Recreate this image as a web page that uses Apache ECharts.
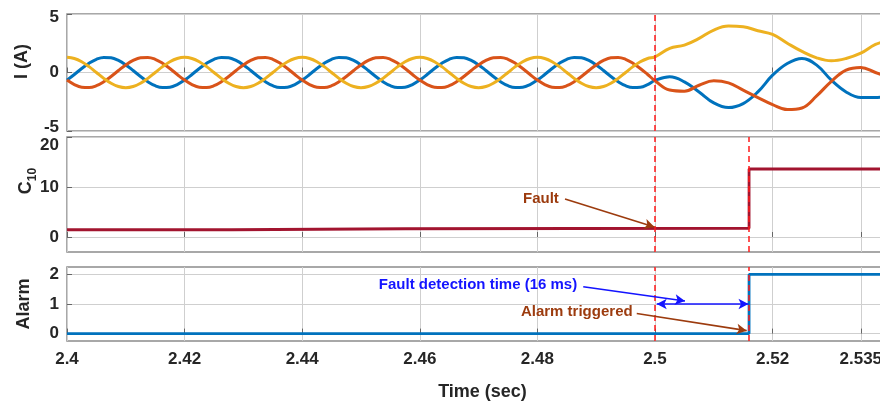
<!DOCTYPE html>
<html>
<head>
<meta charset="utf-8">
<title>Fault detection</title>
<script src="https://cdn.jsdelivr.net/npm/echarts/dist/echarts.min.js"></script>
<style>
    html, body { margin: 0; padding: 0; background: #fff; }
    #chart { width: 880px; height: 405px; }
</style>
</head>
<body>
<div id="chart"></div>
<script>
    // sample times (sec): one cycle per row before the fault, coarser after it
    var time = [
        2.4, 2.40125, 2.4025, 2.40375, 2.405, 2.40625, 2.4075, 2.40875,
        2.41, 2.41125, 2.4125, 2.41375, 2.415, 2.41625, 2.4175, 2.41875,
        2.42, 2.42125, 2.4225, 2.42375, 2.425, 2.42625, 2.4275, 2.42875,
        2.43, 2.43125, 2.4325, 2.43375, 2.435, 2.43625, 2.4375, 2.43875,
        2.44, 2.44125, 2.4425, 2.44375, 2.445, 2.44625, 2.4475, 2.44875,
        2.45, 2.45125, 2.4525, 2.45375, 2.455, 2.45625, 2.4575, 2.45875,
        2.46, 2.46125, 2.4625, 2.46375, 2.465, 2.46625, 2.4675, 2.46875,
        2.47, 2.47125, 2.4725, 2.47375, 2.475, 2.47625, 2.4775, 2.47875,
        2.48, 2.48125, 2.4825, 2.48375, 2.485, 2.48625, 2.4875, 2.48875,
        2.49, 2.49125, 2.4925, 2.49375, 2.495, 2.49625, 2.4975, 2.49875,
        2.5, 2.5025, 2.505, 2.5075, 2.51, 2.5125, 2.515, 2.5175,
        2.52, 2.5225, 2.525, 2.5275, 2.53, 2.5325, 2.535, 2.5375, 2.54, 2.5425];

    // phase currents (A)
    var currentBlue = [
        -0.65, -0.17, 0.34, 0.79, 1.13, 1.29, 1.26, 1.03, 0.65, 0.17, -0.34, -0.79, -1.13, -1.29, -1.26, -1.03,
        -0.65, -0.17, 0.34, 0.79, 1.13, 1.29, 1.26, 1.03, 0.65, 0.17, -0.34, -0.79, -1.13, -1.29, -1.26, -1.03,
        -0.65, -0.17, 0.34, 0.79, 1.13, 1.29, 1.26, 1.03, 0.65, 0.17, -0.34, -0.79, -1.13, -1.29, -1.26, -1.03,
        -0.65, -0.17, 0.34, 0.79, 1.13, 1.29, 1.26, 1.03, 0.65, 0.17, -0.34, -0.79, -1.13, -1.29, -1.26, -1.03,
        -0.65, -0.17, 0.34, 0.79, 1.13, 1.29, 1.26, 1.03, 0.65, 0.17, -0.34, -0.79, -1.13, -1.29, -1.26, -1.03,
        -0.68, -0.37, -0.8, -1.66, -2.6, -3.0, -2.66, -1.66,
        -0.23, 0.77, 1.2, 0.63, -0.66, -1.66, -2.14, -2.14, -1.95, -1.7];
    var currentOrange = [
        -0.65, -1.03, -1.26, -1.29, -1.13, -0.79, -0.34, 0.17, 0.65, 1.03, 1.26, 1.29, 1.13, 0.79, 0.34, -0.17,
        -0.65, -1.03, -1.26, -1.29, -1.13, -0.79, -0.34, 0.17, 0.65, 1.03, 1.26, 1.29, 1.13, 0.79, 0.34, -0.17,
        -0.65, -1.03, -1.26, -1.29, -1.13, -0.79, -0.34, 0.17, 0.65, 1.03, 1.26, 1.29, 1.13, 0.79, 0.34, -0.17,
        -0.65, -1.03, -1.26, -1.29, -1.13, -0.79, -0.34, 0.17, 0.65, 1.03, 1.26, 1.29, 1.13, 0.79, 0.34, -0.17,
        -0.65, -1.03, -1.26, -1.29, -1.13, -0.79, -0.34, 0.17, 0.65, 1.03, 1.26, 1.29, 1.13, 0.79, 0.34, -0.17,
        -0.7, -1.5, -1.6, -1.09, -0.71, -0.89, -1.51, -2.14,
        -2.74, -3.17, -3.03, -2.0, -0.75, 0.2, 0.43, 0.0, -0.45, -0.8];
    var currentYellow = [
        1.3, 1.2, 0.92, 0.5, 0, -0.5, -0.92, -1.2, -1.3, -1.2, -0.92, -0.5, 0, 0.5, 0.92, 1.2,
        1.3, 1.2, 0.92, 0.5, 0, -0.5, -0.92, -1.2, -1.3, -1.2, -0.92, -0.5, 0, 0.5, 0.92, 1.2,
        1.3, 1.2, 0.92, 0.5, 0, -0.5, -0.92, -1.2, -1.3, -1.2, -0.92, -0.5, 0, 0.5, 0.92, 1.2,
        1.3, 1.2, 0.92, 0.5, 0, -0.5, -0.92, -1.2, -1.3, -1.2, -0.92, -0.5, 0, 0.5, 0.92, 1.2,
        1.3, 1.2, 0.92, 0.5, 0, -0.5, -0.92, -1.2, -1.3, -1.2, -0.92, -0.5, 0, 0.5, 0.92, 1.2,
        1.34, 2.06, 2.34, 2.91, 3.63, 3.97, 3.91, 3.57,
        3.25, 2.5, 1.8, 1.25, 1.0, 1.2, 1.65, 2.4, 2.75, 2.95];

    // C10 index
    var c10Time = [2.4, 2.428, 2.428, 2.4575, 2.4575, 2.516, 2.516, 2.5425];
    var c10Value = [1.45, 1.45, 1.65, 1.65, 1.75, 1.75, 13.6, 13.6];

    // alarm flag
    var alarmTime = [2.4, 2.516, 2.516, 2.5425];
    var alarmValue = [0, 0, 2, 2];

    var timeTicks = [2.4, 2.42, 2.44, 2.46, 2.48, 2.5, 2.52, 2.535];
    var faultTime = 2.5;
    var alarmTimeMark = 2.516;

    var FONT = 'Liberation Sans';
    var TXT = '#262626';
    var BROWN = '#9c3b0e';
    var BLUE_TXT = '#1414ff';

    function pairs(xs, ys) {
        return xs.map(function (x, i) { return [x, ys[i]]; });
    }

    function labelStyle(pad) {
        return {fontFamily: FONT, fontWeight: 'bold', fontSize: 17, color: TXT, padding: pad};
    }

    function timeAxis(idx, last) {
        return {
            type: 'value', gridIndex: idx, min: 2.4, max: 2.54133,
            name: last ? 'Time (sec)' : '',
            nameLocation: 'middle', nameGap: 42,
            nameTextStyle: {fontFamily: FONT, fontWeight: 'bold', fontSize: 18, color: TXT},
            axisLine: {show: false},
            axisTick: {show: true, inside: true, length: 5, customValues: timeTicks,
                lineStyle: {color: '#666'}},
            axisLabel: {show: last, customValues: timeTicks, margin: 10,
                fontFamily: FONT, fontWeight: 'bold', fontSize: 17, color: TXT},
            splitLine: {show: true, lineStyle: {color: '#cfcfcf', width: 1}}
        };
    }

    // shift: label value -> rich key, so the end labels sit like the original
    function valueAxis(idx, min, max, ticks, shift, name, rich, pad, gap) {
        return {
            type: 'value', gridIndex: idx, min: min, max: max,
            name: name, nameLocation: 'middle', nameGap: gap, nameMoveOverlap: false,
            nameTextStyle: {fontFamily: FONT, fontWeight: 'bold', fontSize: 18, color: TXT,
                padding: [0, 0, 0, pad], rich: rich},
            axisLine: {show: false},
            axisTick: {show: true, inside: true, length: 5, customValues: ticks,
                lineStyle: {color: '#666'}},
            axisLabel: {
                customValues: ticks, margin: 8,
                fontFamily: FONT, fontWeight: 'bold', fontSize: 17, color: TXT,
                formatter: function (v) {
                    return shift[v] ? '{' + shift[v] + '|' + v + '}' : String(v);
                },
                rich: {
                    dn3: labelStyle([6, 0, 0, 0]),
                    up4: labelStyle([0, 0, 8, 0]),
                    dn8: labelStyle([16, 0, 0, 0])
                }
            },
            splitLine: {show: true, lineStyle: {color: '#cfcfcf', width: 1}}
        };
    }

    var dashed = {color: '#ff1a1a', type: [6, 4], width: 1.5};

    function arrow(from, to, color, both) {
        return [
            {coord: from, symbol: both ? 'arrow' : 'none', symbolSize: [8, 10],
                lineStyle: {color: color, type: 'solid', width: 1.6}},
            {coord: to, symbol: 'arrow', symbolSize: [8, 10],
                lineStyle: {color: color, type: 'solid', width: 1.6}}
        ];
    }

    function note(coord, text, color) {
        return {
            coord: coord, symbol: 'rect', symbolSize: 1,
            itemStyle: {color: 'rgba(0,0,0,0)'},
            label: {show: true, position: 'inside', formatter: text, color: color,
                fontFamily: FONT, fontWeight: 'bold', fontSize: 15}
        };
    }

    var grids = [
        {left: 67, top: 14, width: 831, height: 117},
        {left: 67, top: 137, width: 831, height: 115},
        {left: 67, top: 267, width: 831, height: 74}
    ];
    grids.forEach(function (g) {
        g.show = true;
        g.borderColor = '#8c8c8c';
        g.borderWidth = 1.5;
        g.backgroundColor = '#fff';
        g.containLabel = false;
        g.outerBoundsMode = 'none';
    });

    var chart = echarts.init(document.getElementById('chart'));
    chart.setOption({
        animation: false,
        grid: grids,
        xAxis: [timeAxis(0, false), timeAxis(1, false), timeAxis(2, true)],
        yAxis: [
            valueAxis(0, -5, 5, [-5, 0, 5], {'5': 'dn3', '-5': 'up4'}, 'I (A)', {}, 22, 36),
            valueAxis(1, -3, 20, [0, 10, 20], {'20': 'dn8'}, '{c|C}{s|10}', {
                c: {fontFamily: FONT, fontWeight: 'bold', fontSize: 18, color: TXT},
                s: {fontFamily: FONT, fontWeight: 'bold', fontSize: 12, color: TXT, padding: [14, 0, 0, 0]}
            }, 27, 28),
            valueAxis(2, -0.25, 2.25, [0, 1, 2], {}, 'Alarm', {}, 0, 34)
        ],
        series: [
            {
                name: 'Ia', type: 'line', xAxisIndex: 0, yAxisIndex: 0,
                data: pairs(time, currentBlue), showSymbol: false, smooth: 0.4,
                lineStyle: {color: '#0072bd', width: 3}
            },
            {
                name: 'Ib', type: 'line', xAxisIndex: 0, yAxisIndex: 0,
                data: pairs(time, currentOrange), showSymbol: false, smooth: 0.4,
                lineStyle: {color: '#d95319', width: 3}
            },
            {
                name: 'Ic', type: 'line', xAxisIndex: 0, yAxisIndex: 0,
                data: pairs(time, currentYellow), showSymbol: false, smooth: 0.4,
                lineStyle: {color: '#edb120', width: 3},
                markLine: {silent: true, symbol: 'none', precision: 4, label: {show: false},
                    lineStyle: dashed, data: [{xAxis: faultTime}]}
            },
            {
                name: 'C10', type: 'line', xAxisIndex: 1, yAxisIndex: 1,
                data: pairs(c10Time, c10Value), showSymbol: false,
                lineStyle: {color: '#a2142f', width: 2.8},
                markLine: {silent: true, symbol: 'none', precision: 4, label: {show: false},
                    lineStyle: dashed,
                    data: [{xAxis: faultTime}, {xAxis: alarmTimeMark},
                        arrow([2.4847, 7.6], [2.4999, 2.0], BROWN, false)]},
                markPoint: {silent: true, data: [note([2.4806, 7.66], 'Fault', BROWN)]}
            },
            {
                name: 'Alarm', type: 'line', xAxisIndex: 2, yAxisIndex: 2,
                data: pairs(alarmTime, alarmValue), showSymbol: false,
                lineStyle: {color: '#0072bd', width: 2.8},
                markLine: {silent: true, symbol: 'none', precision: 4, label: {show: false},
                    lineStyle: dashed,
                    data: [{xAxis: faultTime}, {xAxis: alarmTimeMark},
                        arrow([2.4878, 1.58], [2.5051, 1.1], BLUE_TXT, false),
                        arrow([2.5003, 1.0], [2.5159, 1.0], BLUE_TXT, true),
                        arrow([2.4969, 0.68], [2.5156, 0.1], BROWN, false)]},
                markPoint: {silent: true, data: [
                    note([2.4699, 1.63], 'Fault detection time (16 ms)', BLUE_TXT),
                    note([2.4867, 0.735], 'Alarm triggered', BROWN)
                ]}
            }
        ]
    });
</script>
</body>
</html>
